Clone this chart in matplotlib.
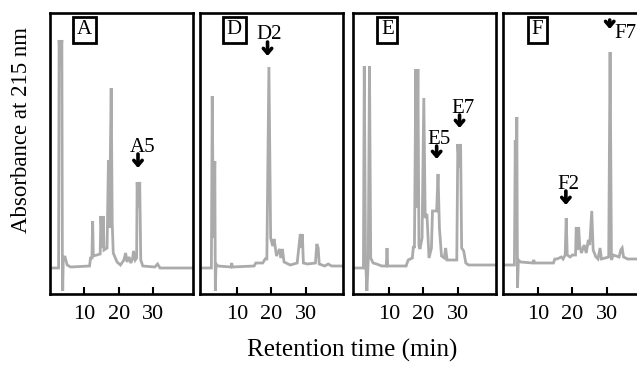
import matplotlib
matplotlib.use("Agg")
from matplotlib import pyplot as plt

plt.rcParams["font.family"] = ["Liberation Serif", "DejaVu Serif"]

# chromatogram traces: retention time (min), absorbance (arb.)
a_time = [0, 2.5, 2.65, 3.0, 3.45, 3.6, 3.7, 3.85, 4.3, 5.0, 6.0, 11.5, 11.8, 12.2, 12.4, 12.6,
          14.6, 14.8, 15.2, 15.5, 15.7, 16.6, 17.0, 17.3, 17.8, 18.1, 18.4, 19.5, 20.5, 21.5, 22.0,
          22.4, 23.0, 23.5, 24.0, 24.3, 24.8, 25.2, 25.35, 25.7, 26.1, 26.4, 27.0, 30.5, 31.3, 32.0, 41.6]
a_abs = [0, 0, 228, 200, 228, 5, -23, 8, 12, 3, 1, 2, 10, 10, 47, 12,
         14, 52, 20, 52, 18, 20, 108, 40, 180, 45, 15, 6, 3, 8, 15,
         6, 11, 5, 9, 17, 8, 10, 86, 60, 86, 8, 2, 1, 4, 0, 0]

d_time = [-0.7, 2.6, 2.85, 3.2, 3.6, 3.75, 3.95, 4.5, 8.3, 8.5, 8.7, 15.0, 15.5, 17.5, 18.2, 18.7,
          19.3, 19.8, 20.4, 20.8, 21.5, 22.4, 22.8, 23.2, 23.7, 25.5, 27.5, 28.4, 28.8, 29.0, 29.3,
          30.5, 32.8, 33.2, 33.6, 33.9, 35.5, 36.5, 37.5, 40.8]
d_abs = [0, 0, 172, 30, 107, -23, 4, 2, 1, 5, 1, 2, 5, 5, 9, 9,
         201, 30, 22, 29, 12, 19, 10, 19, 6, 3, 5, 34, 20, 34, 5,
         4, 5, 24, 20, 4, 2, 4, 2, 2]

e_time = [-0.3, 2.7, 2.95, 3.3, 3.7, 4.1, 4.45, 4.8, 5.5, 6.5, 8.0, 9.3, 9.5, 9.7, 15.0, 15.6,
          16.8, 17.1, 17.4, 17.8, 18.1, 18.4, 18.7, 19.0, 19.6, 20.1, 20.5, 21.0, 21.6, 22.3, 22.6,
          23.8, 24.2, 24.6, 25.2, 26.0, 26.4, 26.8, 29.6, 29.9, 30.3, 30.7, 31.0, 31.6, 32.2, 33.0, 40.9]
e_abs = [0, 0, 202, 10, -23, 8, 202, 10, 5, 4, 2, 2, 20, 2, 2, 8,
         10, 22, 20, 199, 60, 199, 22, 19, 30, 170, 50, 54, 10, 20, 57,
         57, 94, 40, 12, 10, 20, 8, 8, 124, 100, 124, 20, 17, 5, 3, 3]

f_time = [-0.1, 3.2, 3.45, 3.65, 3.9, 4.1, 4.35, 5.0, 8.5, 8.8, 9.1, 14.5, 14.9, 15.5, 16.8, 17.3,
          17.9, 18.2, 18.5, 19.3, 20.0, 20.9, 21.1, 21.5, 21.8, 22.1, 22.6, 23.4, 24.0, 24.6, 25.0,
          25.6, 26.0, 26.8, 27.4, 28.0, 28.4, 30.5, 30.9, 31.3, 31.8, 33.5, 34.0, 34.4, 34.8, 36.0, 41.3]
f_abs = [3, 3, 128, 43, 151, -20, 8, 6, 5, 8, 5, 5, 9, 9, 11, 9,
         13, 50, 13, 11, 13, 13, 41, 18, 41, 23, 15, 23, 15, 28, 23,
         57, 18, 11, 9, 20, 9, 11, 216, 8, 13, 11, 18, 20, 11, 9, 9]

panel_names = ["A", "D", "E", "F"]
# (label, arrow time, arrow tip, arrow tail, text time, text baseline)
peak_marks = {
    "A": [("A5", 25.6, 100, 114, 26.9, 116)],
    "D": [("D2", 18.9, 212, 226, 19.4, 229)],
    "E": [("E5", 23.8, 109, 122, 24.6, 124), ("E7", 30.4, 140, 153, 31.3, 155)],
    "F": [("F2", 18.1, 63, 77, 18.7, 79)],
}

traces = {"A": (a_time, a_abs), "D": (d_time, d_abs), "E": (e_time, e_abs), "F": (f_time, f_abs)}
xlims = {"A": (0, 41.6), "D": (-0.7, 40.8), "E": (-0.3, 40.9), "F": (-0.1, 41.3)}
lefts = {"A": 50, "D": 200, "E": 353, "F": 503}

W, H = 637, 367
fig = plt.figure(figsize=(W / 100, H / 100), dpi=100)
fig.patch.set_facecolor("white")

for name in panel_names:
    ax = fig.add_axes([lefts[name] / W, (H - 294) / H, 143 / W, 281 / H])
    t, y = traces[name]
    ax.plot(t, y, color="#ababab", linewidth=2.0, solid_joinstyle="miter")
    ax.set_xlim(*xlims[name])
    ax.set_ylim(-26, 255)
    ax.set_xticks([10, 20, 30])
    ax.set_yticks([])
    ax.tick_params(axis="x", direction="in", length=5, width=1.5, pad=8, labelsize=16)
    for sp in ax.spines.values():
        sp.set_linewidth(1.9)
        sp.set_color("black")

    ax.text(0.24, 0.94, name, transform=ax.transAxes, ha="center", va="center", fontsize=15,
            bbox=dict(boxstyle="square,pad=0.18", facecolor="white", edgecolor="black", linewidth=2))

    for label, at, tip, tail, tt, tb in peak_marks.get(name, []):
        ax.annotate("", xy=(at, tip), xytext=(at, tail),
                    arrowprops=dict(arrowstyle="->,head_length=0.35,head_width=0.3", lw=2.6,
                                    color="black", shrinkA=0, shrinkB=0))
        ax.text(tt, tb, label, ha="center", va="baseline", fontsize=15)

    if name == "F":
        ax.annotate("", xy=(30.8, 239), xytext=(30.8, 248),
                    arrowprops=dict(arrowstyle="->,head_length=0.35,head_width=0.3", lw=2.6,
                                    color="black", shrinkA=0, shrinkB=0))
        ax.text(32.0, 230, "F7", ha="left", va="baseline", fontsize=15)

fig.text(22 / W, (H - 130) / H, "Absorbance at 215 nm", rotation=90, ha="center", va="center",
         fontsize=16.5)
fig.text(352 / W, (H - 357) / H, "Retention time (min)", ha="center", va="baseline", fontsize=18)

fig.savefig("out.png", dpi=100, facecolor="white")
